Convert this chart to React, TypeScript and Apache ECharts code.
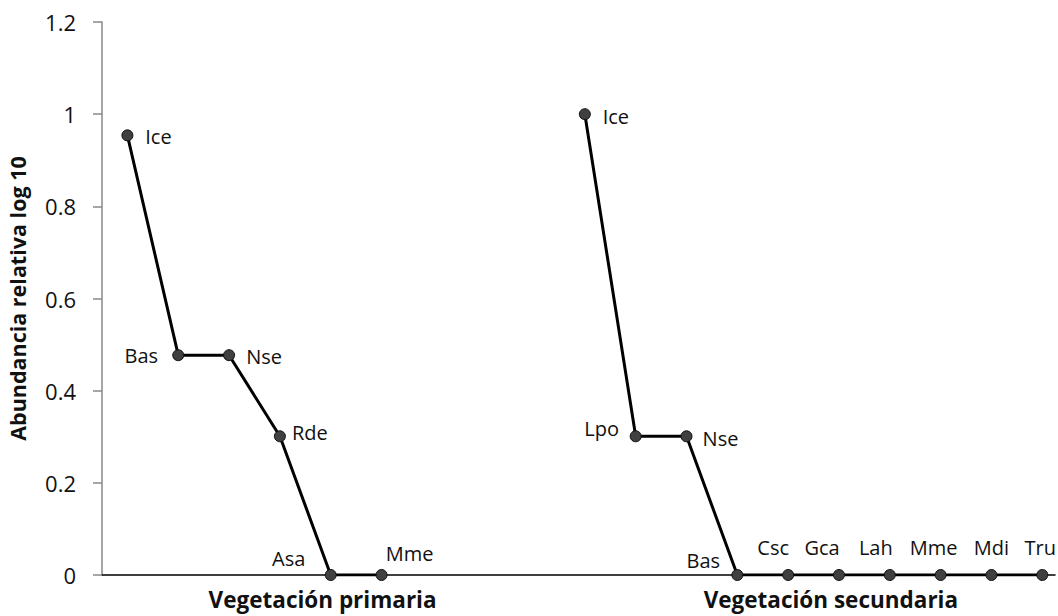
import React, { useEffect, useRef } from "react";
import * as echarts from "echarts";

// Species codes and log10 relative abundance per vegetation type
const primaryNames = ["Ice", "Bas", "Nse", "Rde", "Asa", "Mme"];
const primaryValues = [0.954, 0.477, 0.477, 0.301, 0, 0];

const secondaryNames = ["Ice", "Lpo", "Nse", "Bas", "Csc", "Gca", "Lah", "Mme", "Mdi", "Tru"];
const secondaryValues = [1.0, 0.301, 0.301, 0, 0, 0, 0, 0, 0, 0];

const groupLabels = ["Vegetación primaria", "Vegetación secundaria"];
const yTicks = [0, 0.2, 0.4, 0.6, 0.8, 1, 1.2];

// empty slots separating the two rank curves on the x axis
const GAP_SLOTS = 3;

// label centre offset from each point, in pixels
const primaryLabelOffsets: number[][] = [
  [31, 1],
  [-37, 0],
  [35, 1],
  [30, -4],
  [-42, -17],
  [28, -22],
];
const secondaryLabelOffsets: number[][] = [
  [31, 2],
  [-34, -8],
  [34, 2],
  [-34, -15],
  [-15, -28],
  [-17, -28],
  [-14, -28],
  [-7, -28],
  [0, -28],
  [-2, -28],
];

const FONT = "'Open Sans', sans-serif";

function buildSeriesData(names: string[], values: number[], start: number, offsets: number[][]) {
  return names.map((name, i) => ({
    name,
    value: [start + i, values[i]],
    label: {
      show: true,
      position: "inside",
      offset: offsets[i],
      formatter: name,
    },
  }));
}

export default function App() {
  const ref = useRef<HTMLDivElement>(null);

  useEffect(() => {
    if (!ref.current) return;
    const chart = echarts.init(ref.current, undefined, { renderer: "svg" });

    const secondaryStart = primaryNames.length + GAP_SLOTS;
    const lastIndex = secondaryStart + secondaryNames.length - 1;
    // group captions sit a little right of the centre of each curve
    const primaryCenter = (primaryNames.length - 1) / 2 + 1.34;
    const secondaryCenter = secondaryStart + (secondaryNames.length - 1) / 2 + 0.34;

    const seriesCommon = {
      type: "line" as const,
      symbol: "circle",
      symbolSize: 11,
      lineStyle: { color: "#000", width: 3 },
      itemStyle: { color: "#404040", borderColor: "#111", borderWidth: 1 },
      label: { color: "#111", fontSize: 20, fontFamily: FONT },
      emphasis: { disabled: true },
    };

    chart.setOption({
      animation: false,
      backgroundColor: "#fff",
      grid: {
        left: 102,
        right: 3,
        top: 22,
        bottom: 41,
        containLabel: false,
        outerBoundsMode: "none",
      },
      xAxis: {
        type: "value",
        min: -0.5,
        max: lastIndex + 0.25,
        splitLine: { show: false },
        axisLine: { show: true, onZero: false, lineStyle: { color: "#000", width: 1.5 } },
        axisTick: { show: false },
        axisLabel: {
          customValues: [primaryCenter, secondaryCenter],
          formatter: (v: number) => (v < secondaryStart ? groupLabels[0] : groupLabels[1]),
          fontFamily: FONT,
          fontWeight: "bold",
          fontSize: 22.5,
          color: "#111",
          margin: 13,
        },
      },
      yAxis: {
        type: "value",
        min: yTicks[0],
        max: yTicks[yTicks.length - 1],
        interval: 0.2,
        name: "Abundancia relativa log 10",
        nameLocation: "middle",
        nameGap: 74,
        nameTextStyle: { fontFamily: FONT, fontWeight: "bold", fontSize: 21.5, color: "#111" },
        splitLine: { show: false },
        axisLine: { show: true, onZero: false, lineStyle: { color: "#888", width: 1.5 } },
        axisTick: { show: true, inside: false, length: 9, lineStyle: { color: "#888", width: 1.5 } },
        axisLabel: { fontFamily: FONT, fontSize: 22, color: "#111", margin: 26 },
      },
      series: [
        {
          ...seriesCommon,
          name: groupLabels[0],
          data: buildSeriesData(primaryNames, primaryValues, 0, primaryLabelOffsets),
        },
        {
          ...seriesCommon,
          name: groupLabels[1],
          data: buildSeriesData(secondaryNames, secondaryValues, secondaryStart, secondaryLabelOffsets),
        },
      ],
    });

    return () => chart.dispose();
  }, []);

  return (
    <div
      ref={ref}
      style={{ position: "absolute", left: 0, top: 0, width: 1058, height: 616 }}
    />
  );
}
